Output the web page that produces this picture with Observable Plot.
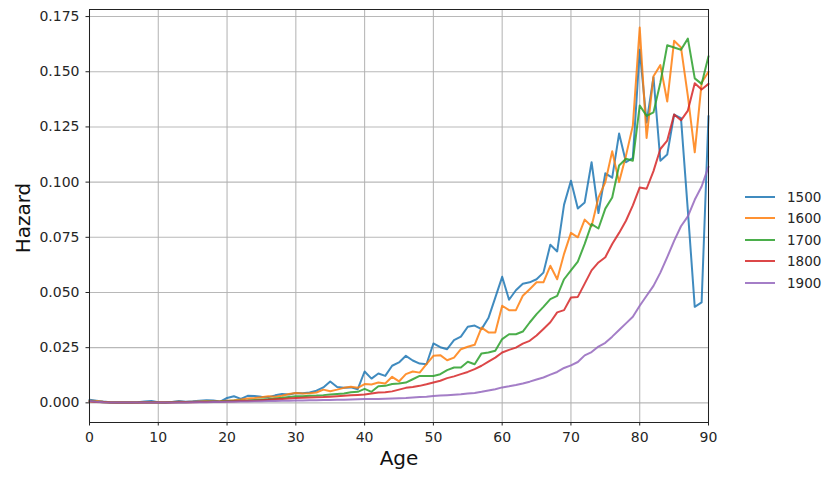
<!DOCTYPE html>
<html>
<head>
<meta charset="utf-8">
<script src="https://cdn.jsdelivr.net/npm/d3@7"></script>
<script src="https://cdn.jsdelivr.net/npm/@observablehq/plot@0.6"></script>
<style>
  html, body { margin: 0; padding: 0; background: white; }
  #wrap { position: relative; width: 828px; height: 478px; font-family: "DejaVu Sans", sans-serif; }
  #legend { position: absolute; left: 745px; top: 186px; font-size: 13.5px; color: #262626; }
  #legend .row { display: flex; align-items: center; height: 21.5px; }
  #legend .sw { width: 30px; height: 2px; margin-right: 12px; opacity: 0.85; }
</style>
</head>
<body>
<div id="wrap"><div id="legend"></div></div>
<script>
const ages = [0,1,2,3,4,5,6,7,8,9,10,11,12,13,14,15,16,17,18,19,20,21,22,23,24,25,26,27,28,29,30,31,32,33,34,35,36,37,38,39,40,41,42,43,44,45,46,47,48,49,50,51,52,53,54,55,56,57,58,59,60,61,62,63,64,65,66,67,68,69,70,71,72,73,74,75,76,77,78,79,80,81,82,83,84,85,86,87,88,89,90];
const cohorts = ["1500", "1600", "1700", "1800", "1900"];
const colors = ["#1f77b4", "#ff7f0e", "#2ca02c", "#d62728", "#9467bd"];
const xTicks = [0, 10, 20, 30, 40, 50, 60, 70, 80, 90];
const yTicks = [0, 0.025, 0.05, 0.075, 0.1, 0.125, 0.15, 0.175];

const h1500 = [0.0014,0.0010,0.0006,0.0003,0.0002,0.0002,0.0002,0.0003,0.0006,0.0008,
 0.0003,0.0002,0.0004,0.0008,0.0005,0.0007,0.0010,0.0012,0.0011,0.0006,
 0.0022,0.0030,0.0018,0.0032,0.0031,0.0028,0.0026,0.0034,0.0040,0.0038,
 0.0045,0.0044,0.0047,0.0055,0.0070,0.0097,0.0072,0.0068,0.0070,0.0062,
 0.0142,0.0110,0.0133,0.0122,0.0168,0.0183,0.0213,0.0192,0.0178,0.0175,
 0.0269,0.0252,0.0243,0.0284,0.0300,0.0345,0.0350,0.0334,0.0384,0.0477,
 0.0571,0.0467,0.0510,0.0540,0.0546,0.0560,0.0590,0.0716,0.0686,0.0898,
 0.1006,0.0880,0.0908,0.1090,0.0860,0.1040,0.1020,0.1220,0.1090,0.1110,
 0.1600,0.1270,0.1475,0.1097,0.1125,0.1306,0.1290,0.0870,0.0435,0.0455,
 0.1300];
const h1600 = [0.0010,0.0008,0.0005,0.0003,0.0002,0.0002,0.0002,0.0002,0.0003,0.0004,
 0.0003,0.0003,0.0004,0.0005,0.0004,0.0005,0.0006,0.0007,0.0006,0.0007,
 0.0010,0.0012,0.0015,0.0020,0.0022,0.0025,0.0030,0.0028,0.0032,0.0040,
 0.0045,0.0042,0.0044,0.0047,0.0060,0.0053,0.0060,0.0068,0.0073,0.0068,
 0.0085,0.0083,0.0092,0.0088,0.0118,0.0097,0.0130,0.0142,0.0137,0.0175,
 0.0213,0.0216,0.0193,0.0205,0.0243,0.0254,0.0263,0.0341,0.0319,0.0319,
 0.0440,0.0420,0.0420,0.0485,0.0515,0.0546,0.0546,0.0621,0.0560,0.0675,
 0.0770,0.0750,0.0830,0.0800,0.0930,0.1000,0.1140,0.1000,0.1120,0.1256,
 0.1700,0.1200,0.1480,0.1530,0.1365,0.1640,0.1610,0.1390,0.1135,0.1450,
 0.1500];
const h1700 = [0.0008,0.0005,0.0003,0.0002,0.0002,0.0002,0.0002,0.0002,0.0002,0.0003,
 0.0002,0.0002,0.0003,0.0003,0.0003,0.0004,0.0004,0.0005,0.0005,0.0006,
 0.0008,0.0009,0.0010,0.0011,0.0013,0.0015,0.0017,0.0020,0.0023,0.0027,
 0.0030,0.0030,0.0032,0.0033,0.0035,0.0038,0.0040,0.0042,0.0048,0.0050,
 0.0063,0.0050,0.0075,0.0077,0.0085,0.0088,0.0092,0.0107,0.0122,0.0122,
 0.0122,0.0130,0.0148,0.0160,0.0160,0.0186,0.0175,0.0224,0.0228,0.0236,
 0.0289,0.0311,0.0311,0.0323,0.0364,0.0402,0.0435,0.0470,0.0485,0.0560,
 0.0600,0.0640,0.0720,0.0810,0.0790,0.0880,0.0930,0.1075,0.1106,0.1097,
 0.1347,0.1300,0.1316,0.1450,0.1620,0.1610,0.1600,0.1650,0.1470,0.1445,
 0.1570];
const h1800 = [0.0006,0.0004,0.0003,0.0002,0.0002,0.0002,0.0002,0.0002,0.0002,0.0002,
 0.0002,0.0002,0.0002,0.0003,0.0003,0.0003,0.0004,0.0004,0.0005,0.0005,
 0.0006,0.0007,0.0008,0.0009,0.0010,0.0012,0.0014,0.0016,0.0018,0.0020,
 0.0022,0.0023,0.0024,0.0025,0.0026,0.0028,0.0030,0.0032,0.0034,0.0036,
 0.0038,0.0042,0.0047,0.0048,0.0052,0.0060,0.0068,0.0072,0.0077,0.0084,
 0.0092,0.0100,0.0112,0.0120,0.0130,0.0140,0.0153,0.0168,0.0187,0.0205,
 0.0228,0.0240,0.0250,0.0268,0.0281,0.0305,0.0335,0.0365,0.0410,0.0420,
 0.0477,0.0480,0.0540,0.0600,0.0636,0.0660,0.0720,0.0770,0.0825,0.0895,
 0.0976,0.0970,0.1050,0.1150,0.1188,0.1306,0.1280,0.1324,0.1448,0.1420,
 0.1445];
const h1900 = [0.0008,0.0005,0.0003,0.0002,0.0002,0.0002,0.0002,0.0002,0.0002,0.0002,
 0.0002,0.0002,0.0002,0.0002,0.0002,0.0003,0.0003,0.0003,0.0004,0.0004,
 0.0005,0.0005,0.0006,0.0006,0.0007,0.0007,0.0008,0.0008,0.0009,0.0010,
 0.0011,0.0011,0.0012,0.0012,0.0013,0.0013,0.0014,0.0014,0.0015,0.0016,
 0.0017,0.0017,0.0018,0.0019,0.0020,0.0021,0.0022,0.0024,0.0026,0.0028,
 0.0031,0.0033,0.0035,0.0037,0.0039,0.0042,0.0045,0.0050,0.0056,0.0062,
 0.0070,0.0075,0.0081,0.0088,0.0096,0.0106,0.0115,0.0128,0.0140,0.0158,
 0.0170,0.0185,0.0215,0.0230,0.0255,0.0272,0.0300,0.0330,0.0360,0.0390,
 0.0440,0.0485,0.0530,0.0590,0.0660,0.0734,0.0800,0.0845,0.0920,0.0980,
 0.1070];

const series = [h1500, h1600, h1700, h1800, h1900];
const rows = [];
cohorts.forEach((c, i) => ages.forEach((a, j) => rows.push({age: a, hazard: series[i][j], cohort: c})));

const chart = Plot.plot({
  width: 828,
  height: 478,
  marginLeft: 89,
  marginRight: 120,
  marginTop: 9,
  marginBottom: 56,
  style: {fontFamily: "'DejaVu Sans', sans-serif", fontSize: "14px", color: "#262626", background: "white"},
  x: {domain: [0, 90], label: null},
  y: {domain: [-0.0089, 0.1782], label: null},
  color: {domain: cohorts, range: colors},
  marks: [
    Plot.gridX(xTicks, {stroke: "#b0b0b0", strokeOpacity: 0.9, strokeWidth: 1.1}),
    Plot.gridY(yTicks, {stroke: "#b0b0b0", strokeOpacity: 0.9, strokeWidth: 1.1}),
    Plot.axisX(xTicks, {tickSize: 3.5, tickPadding: 6, label: null, stroke: "#222", fontSize: 14}),
    Plot.axisY(yTicks, {tickSize: 3.5, tickPadding: 6.5, label: null, tickFormat: d3.format(".3f"), stroke: "#222", fontSize: 14}),
    Plot.line(rows, {x: "age", y: "hazard", z: "cohort", stroke: "cohort", strokeWidth: 2, strokeOpacity: 0.85}),
    Plot.frame({stroke: "#222", strokeWidth: 1}),
    Plot.text(["Hazard"], {frameAnchor: "left", textAnchor: "middle", dx: -66, dy: 2, rotate: -90, fontSize: 20, fill: "#111"}),
    Plot.text(["Age"], {frameAnchor: "bottom", textAnchor: "middle", dy: 42, fontSize: 20, fill: "#111"})
  ]
});
document.getElementById("wrap").prepend(chart);

const legend = document.getElementById("legend");
cohorts.forEach((c, i) => {
  const row = document.createElement("div");
  row.className = "row";
  const sw = document.createElement("div");
  sw.className = "sw";
  sw.style.background = colors[i];
  const t = document.createElement("span");
  t.textContent = c;
  row.appendChild(sw);
  row.appendChild(t);
  legend.appendChild(row);
});
</script>
</body>
</html>
